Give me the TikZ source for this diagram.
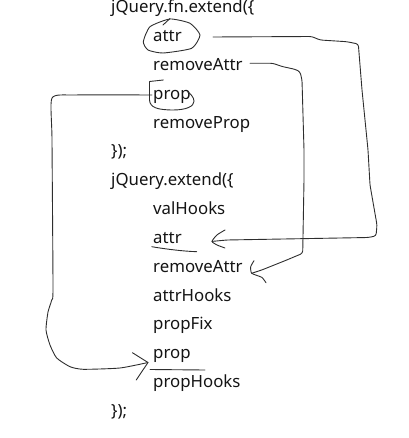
\documentclass[tikz,border=0pt]{standalone}
\usepackage{fontspec}
\setmainfont{Noto Sans}
\usetikzlibrary{calc}
\begin{document}
\begin{tikzpicture}[x=1pt,y=-1pt,
  code/.style={anchor=base west, inner sep=0pt, font=\fontsize{16.8}{20}\selectfont, text=black!92},
  ink/.style={line width=0.9pt, black!82, line cap=round, line join=round},
  hand/.style={ink, rounded corners=2.5pt},
  curvy/.style={ink, smooth, tension=0.35}]
\useasboundingbox (0,0) rectangle (408,438);
% text lines
\node[code] (t0)  at (111,13.0)  {jQuery.fn.extend(\{};
\node[code] (a1)  at (153,41.8)  {attr};
\node[code] (ra1) at (153,70.6)  {removeAttr};
\node[code] (p1)  at (153,99.4)  {prop};
\node[code] (rp1) at (153,128.2) {removeProp};
\node[code] (c1)  at (111,157.0) {\});};
\node[code] (t1)  at (111,185.8) {jQuery.extend(\{};
\node[code] (vh)  at (153,214.6) {valHooks};
\node[code] (a2)  at (153,243.4) {attr};
\node[code] (ra2) at (153,272.2) {removeAttr};
\node[code] (ah)  at (153,301.0) {attrHooks};
\node[code] (pf)  at (153,329.8) {propFix};
\node[code] (p2)  at (153,358.6) {prop};
\node[code] (ph)  at (153,387.4) {propHooks};
\node[code] (c2)  at (111,416.2) {\});};
% loop around first attr
\begin{scope}[shift={(a1.base west)}]
\draw[curvy] plot[smooth cycle] coordinates {(17,-22.8) (-3,-15.1) (-9.7,-0.1) (-5,8.2) (10,11.2) (38.7,6.5) (47,-6.8) (37,-18.5)};
\draw[ink] (10,-16.8) -- (17,-23.3);
\end{scope}
% loop around first prop
\begin{scope}[shift={(p1.base west)}]
\draw[ink] (10.3,-19.4) -- (-3.5,-17.9) -- (-3.5,0.6) .. controls (-3,8) and (4,10.5) .. (20,10.6) .. controls (33,10.6) and (41,7) .. (41,2) .. controls (41,-2) and (38,-5) .. (35,-7.4);
\end{scope}
% underlines
\draw[ink] ($(a2.base west)+(-1.3,3.3)$) .. controls ($(a2.base west)+(15,6)$) and ($(a2.base west)+(30,7.8)$) .. ($(a2.base west)+(43.7,8.3)$);
\draw[ink] ($(p2.base west)+(-3,10.9)$) -- ($(p2.base west)+(52,11.4)$);
% attr -> attr
\coordinate (tipA) at ($(a2.base west)+(59,-2)$);
\draw[hand] ($(a1.base west)+(60,-4.8)$) -- (311.7,36.5) -- (320,40) -- (346.7,41.7) -- (358.3,44) -- (362,90) -- (368,150) -- (370,185) -- (377,225) -- (376,236) -- (368,237.5) -- (227,240) -- (tipA);
\draw[curvy] plot coordinates {($(tipA)+(13,-11.4)$) ($(tipA)+(5,-6.5)$) (tipA) ($(tipA)+(5,3.6)$) ($(tipA)+(13,6.6)$)};
% removeAttr -> removeAttr
\coordinate (tipB) at ($(ra2.base west)+(98.7,1.1)$);
\draw[hand] ($(ra1.base west)+(97,-7.3)$) -- (273,63.3) -- (282,66.5) -- (295,69.3) -- (300,71.7) -- (302,80) -- (304,150) -- (304,180) -- (302.7,253.3) -- (286.7,260) -- (270,266.7) -- (261.7,270) -- (tipB);
\draw[curvy] plot coordinates {($(tipB)+(2.3,-12.6)$) ($(tipB)+(-1,-6.6)$) (tipB) ($(tipB)+(10,4)$) ($(tipB)+(14.3,9.4)$)};
% prop -> prop
\coordinate (tipC) at ($(p2.base west)+(-5,3.9)$);
\draw[curvy] plot coordinates {($(p1.base west)+(-1,-4.4)$) (75,95) (52,98) (52,140) (53,288) (51.7,300) (48,312) (46,330) (50,345) (56.7,358) (70,366.7) (83.3,369.3) (120,368) (tipC)};
\draw[ink] ($(tipC)+(-15.6,-9.8)$) -- (tipC) -- ($(tipC)+(-11.8,17.5)$);
\end{tikzpicture}
\end{document}
